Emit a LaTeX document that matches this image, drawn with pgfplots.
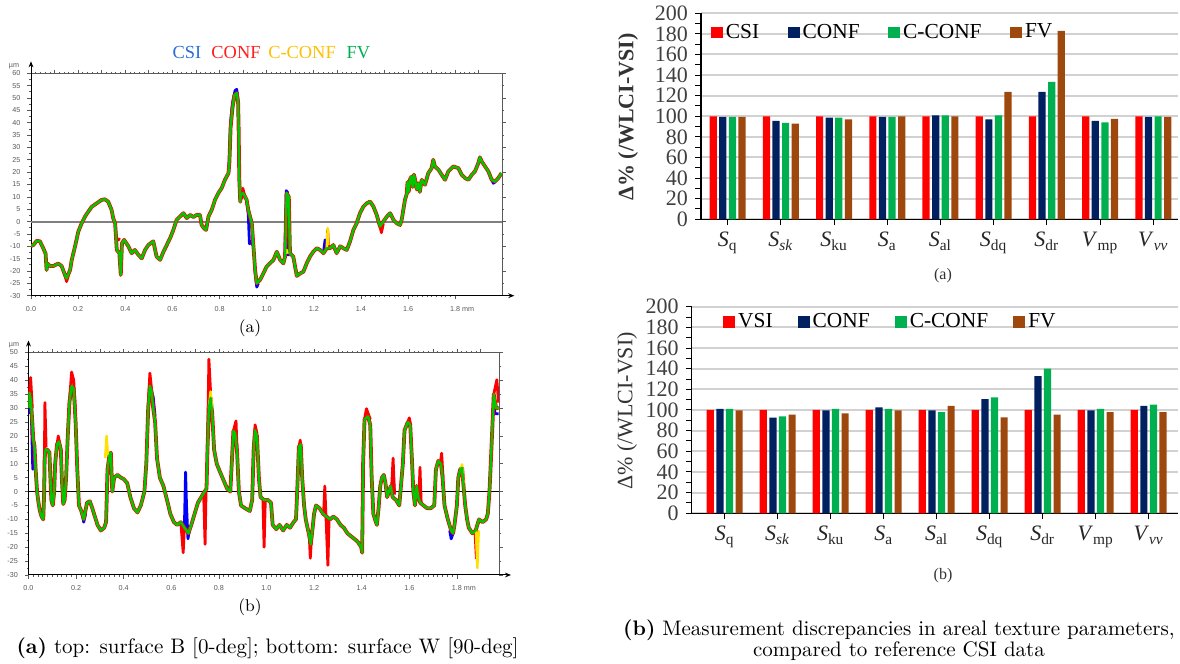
\documentclass[border=0pt]{standalone}
\usepackage{fontspec}
\usepackage{pgfplots}
\usepackage{pgfplotstable}
\pgfplotsset{compat=1.18}
\usetikzlibrary{arrows.meta}
\newfontfamily\tnr{Liberation Serif}
\newfontfamily\ars{Liberation Sans}
\definecolor{pblue}{RGB}{0,0,255}
\definecolor{pred}{RGB}{255,0,0}
\definecolor{pyel}{RGB}{255,225,0}
\definecolor{pgreen}{RGB}{0,200,0}
\definecolor{lblue}{RGB}{40,110,215}
\definecolor{lred}{RGB}{255,30,30}
\definecolor{lgold}{RGB}{255,192,0}
\definecolor{lgreen}{RGB}{0,176,80}
\definecolor{bred}{RGB}{255,0,0}
\definecolor{bnavy}{RGB}{0,32,96}
\definecolor{bgreen}{RGB}{0,176,80}
\definecolor{bbrown}{RGB}{158,72,14}
\definecolor{tickgray}{RGB}{90,90,90}

% ---------- profile (a): surface B, FV trace ----------
\pgfplotstableread{
x y
0.000 -9.9
0.010 -9.5
0.024 -7.8
0.038 -8.0
0.052 -10.8
0.062 -13
0.066 -19.6
0.070 -17
0.081 -18.0
0.095 -18.0
0.116 -17.0
0.130 -18.0
0.144 -21.6
0.151 -23.0
0.166 -19.6
0.173 -15.5
0.187 -10.0
0.201 -4.0
0.215 -0.7
0.229 2.0
0.243 4.0
0.258 6.0
0.279 7.4
0.300 8.8
0.314 9.0
0.328 8.0
0.342 4.7
0.349 1.3
0.357 -0.7
0.364 -11.5
0.375 -12.8
0.381 -21.6
0.386 -8.8
0.395 -7.4
0.413 -10.0
0.427 -12.8
0.441 -11.5
0.456 -13.5
0.470 -14.9
0.484 -11.5
0.498 -9.5
0.519 -8.0
0.533 -14.2
0.548 -15.5
0.562 -12.2
0.576 -9.5
0.590 -6.8
0.604 -3.4
0.618 0.7
0.632 2.0
0.647 3.4
0.661 1.4
0.675 2.7
0.689 1.8
0.703 2.7
0.717 2.7
0.724 -1.4
0.734 -2.7
0.743 -3.4
0.753 2.0
0.767 4.7
0.781 8.8
0.795 11.5
0.809 13.5
0.823 16.9
0.838 19.6
0.842 24
0.847 38
0.855 46
0.863 51
0.873 52
0.879 48
0.881 38
0.884 17
0.888 8
0.890 11
0.901 11.5
0.915 8.8
0.922 4.7
0.937 -0.7
0.944 -10
0.951 -19.6
0.958 -25
0.972 -23.6
0.986 -21
1.000 -18.2
1.014 -16.9
1.029 -15.5
1.043 -12.2
1.057 -15.5
1.071 -16.9
1.078 -14.2
1.085 11.5
1.094 10
1.099 -12.8
1.113 -14.2
1.128 -22.0
1.142 -21
1.156 -20.3
1.170 -16.9
1.184 -14.2
1.198 -12.2
1.213 -10.8
1.227 -11.5
1.241 -12.8
1.255 -10.8
1.269 -10.8
1.283 -9.5
1.297 -12.8
1.312 -10
1.326 -10.8
1.340 -11.5
1.354 -8
1.368 -3.4
1.382 -0.7
1.396 3.4
1.411 6.1
1.425 7.4
1.439 8.1
1.453 6.1
1.467 2.7
1.481 -2
1.495 0
1.510 2
1.524 3.4
1.538 0.7
1.552 -0.7
1.566 -1.4
1.573 0.7
1.587 8.8
1.594 11
1.598 16
1.603 12
1.608 17
1.615 18.2
1.620 14
1.625 19
1.630 16.9
1.637 13
1.644 15.5
1.650 12
1.658 16.9
1.672 14.9
1.686 19.6
1.700 21.6
1.707 25
1.714 22.3
1.729 21
1.743 18.9
1.757 16.9
1.771 20.3
1.792 22.3
1.814 21.6
1.828 18.9
1.842 17.6
1.856 16.9
1.870 18.9
1.884 20.3
1.898 23.6
1.905 26
1.913 24.3
1.927 22.3
1.941 20.3
1.955 16.9
1.969 16.2
1.983 17.6
1.997 19.6
}\profA

% ---------- profile (b): surface W, FV trace ----------
\pgfplotstableread{
x y
0.000 30
0.004 35.5
0.010 33
0.016 25
0.020 18.8
0.025 16.4
0.030 8
0.036 0
0.042 -4
0.048 -7
0.055 -9
0.062 -10
0.066 0
0.068 12
0.072 15.2
0.080 15
0.088 14
0.092 5
0.096 -3
0.102 -5
0.108 0
0.112 10
0.120 17
0.128 18
0.136 15
0.140 5
0.146 -4.5
0.152 -3
0.158 5
0.165 20
0.172 32
0.181 38
0.190 37
0.198 25
0.205 8
0.212 -5
0.222 -7
0.232 -10
0.246 -4
0.258 -3.5
0.268 -6
0.290 -12
0.304 -14
0.318 -13
0.326 -11
0.332 8
0.340 13
0.346 14
0.352 0
0.360 5
0.374 6
0.388 5
0.400 4.5
0.415 3
0.428 -2
0.443 -6
0.458 -7.5
0.472 -5
0.487 0
0.495 10
0.503 30
0.510 38
0.517 36
0.524 30
0.532 25
0.540 12
0.552 5
0.567 2
0.582 -3
0.596 -8
0.611 -11
0.625 -12
0.640 -11
0.655 -13
0.664 -14
0.672 -15
0.684 -12
0.698 -8
0.712 -4
0.726 -2
0.740 0
0.748 1
0.752 15
0.758 30
0.765 33.7
0.772 28
0.780 15
0.791 10
0.805 7
0.820 4
0.835 1
0.848 0
0.854 10
0.861 21.8
0.868 21
0.876 15
0.884 0
0.893 -5
0.910 -6
0.930 -7
0.940 -3
0.946 15
0.952 22
0.960 20
0.968 5
0.975 -2
0.990 -3
1.005 -3
1.019 -4
1.026 -12
1.041 -13.5
1.055 -12
1.070 -14
1.085 -12
1.099 -13
1.114 -11
1.124 -10
1.130 2
1.136 16
1.144 17
1.150 5
1.158 -5
1.165 -10
1.180 -16
1.186 -19
1.194 -13
1.200 -8
1.208 -5
1.223 -6
1.238 -8
1.252 -9
1.267 -10
1.281 -9
1.296 -10
1.311 -12
1.325 -13
1.340 -15
1.354 -16
1.369 -17
1.383 -18
1.398 -20
1.402 -22
1.406 10
1.412 26
1.427 27
1.436 24
1.442 5
1.449 -8
1.456 -10
1.464 -12
1.471 -6
1.478 2
1.485 5
1.493 6
1.500 3
1.507 -2
1.515 0
1.522 2
1.530 -2
1.544 -3
1.558 -5
1.566 3
1.573 10
1.580 22
1.594 25
1.604 24
1.612 10
1.617 0
1.624 -5
1.631 2
1.638 -2
1.646 -4
1.660 -5
1.675 -6
1.690 -6
1.705 -5
1.712 8
1.722 11
1.733 10
1.740 5
1.748 -5
1.762 -10
1.776 -14
1.784 -15
1.790 -12
1.800 -5
1.806 5
1.814 8
1.822 8.5
1.828 2
1.835 -5
1.843 -10
1.850 -13
1.865 -15
1.879 -14
1.893 -10
1.908 -11
1.923 -10
1.930 -8
1.937 0
1.945 15
1.955 35
1.965 30
1.975 30
}\profB

% ---------- bar data ----------
\pgfplotstableread{
x csi conf cconf fv
0 100 99.5 99.5 99.5
1 100 95.5 93.5 93
2 100 98.7 98.7 97
3 100 99.4 99.4 100
4 100 101 101 100
5 100 97 101 123.6
6 100 123.6 133.3 183
7 100 95.5 94 97.4
8 100 99.4 100 99.4
}\barA
\pgfplotstableread{
x vsi conf cconf fv
0 100 101 101 99.7
1 100 92.6 93.9 95.5
2 100 99.7 101 96.8
3 100 102.6 101 99.7
4 100 99.7 98 103.9
5 100 110.6 112.3 92.9
6 100 132.9 140 95.5
7 100 99.7 101 98
8 100 103.9 105.2 98
}\barB

\pgfplotsset{
  profbase/.style={
    scale only axis, anchor=south west,
    axis lines=left,
    axis line style={-{Stealth[length=3pt,width=2.4pt]}, shorten >=-6pt, line width=0.5pt, black},
    tick align=outside, major tick length=1.8pt, minor tick length=0.9pt,
    tick style={tickgray, line width=0.35pt},
    minor x tick num=9, minor y tick num=1,
    /pgf/number format/assume math mode=true,
    tick label style={font=\ars\fontsize{3.6}{4}\selectfont, text=tickgray},
    xticklabels={0.0,0.2,0.4,0.6,0.8,1.0,1.2,1.4,1.6,1.8\rlap{ mm}},
    xtick={0,0.2,0.4,0.6,0.8,1.0,1.2,1.4,1.6,1.8},
    every axis plot/.append style={line join=round},
  },
  profover/.style={
    scale only axis, anchor=south west,
    axis x line*=top, axis y line*=right,
    axis line style={tickgray, line width=0.4pt},
    tick align=outside, major tick length=1.8pt, minor tick length=0.9pt,
    tick style={tickgray, line width=0.35pt},
    xtick={0,0.1,...,1.9}, minor x tick num=4, xticklabels={},
    minor y tick num=1, yticklabels={},
  },
  barbase/.style={
    scale only axis, anchor=south west,
    ymin=0, ymax=200,
    axis x line*=bottom, axis y line*=left,
    axis line style={black, line width=0.6pt},
    ytick={0,20,...,200}, minor ytick={10,30,...,190},
    ymajorgrids, major grid style={black!18, line width=1pt},
    tick align=outside, major tick length=3pt, minor tick length=3pt,
    tick style={black, line width=0.5pt},
    xtick={0,...,8},
    xticklabels={{\textit{S}\textsubscript{q}},{\textit{S}\textsubscript{\textit{sk}}},{\textit{S}\textsubscript{ku}},{\textit{S}\textsubscript{a}},{\textit{S}\textsubscript{al}},{\textit{S}\textsubscript{dq}},{\textit{S}\textsubscript{dr}},{\textit{V}\textsubscript{mp}},{\textit{V}\textsubscript{\textit{vv}}}},
    ybar=1.2pt, bar width=3.6pt,
    /pgf/number format/assume math mode=true,
    yticklabel style={font=\tnr\fontsize{11}{12}\selectfont, text=black!75},
    xticklabel style={font=\tnr\fontsize{11}{12}\selectfont, text=black!85},
    legend style={draw=none, fill=none, legend columns=4, inner sep=0pt,
      font=\tnr\fontsize{10.7}{12}\selectfont,
      nodes={inner sep=1.5pt}},
    legend image code/.code={\fill[#1] (0pt,-2.9pt) rectangle (6pt,2.9pt);},
  },
}

\begin{document}
\begin{tikzpicture}[x=0.5pt,y=0.5pt]
\useasboundingbox (0,0) rectangle (1180,664);

% ================= profile (a) =================
\begin{axis}[profover, at={(15.5pt,184.15pt)}, width=235.65pt, height=111.2pt,
  xmin=0, xmax=2.0, ymin=-30, ymax=60, ytick={-30,-20,...,60}]
\addplot[draw=none] coordinates {(0,0)};
\end{axis}
\begin{axis}[profbase, at={(15.5pt,184.15pt)}, width=235.65pt, height=111.2pt,
  xmin=0, xmax=2.0, ymin=-30, ymax=60, ytick={-30,-25,...,60}]
\addplot[gray, line width=1pt] coordinates {(0,0) (2.0,0)};
% CSI (blue)
\addplot[pblue, line width=1.4pt] coordinates {(0.838,19.6) (0.842,26) (0.847,40) (0.855,48) (0.866,53) (0.873,53.5) (0.879,49) (0.881,38)};
\addplot[pblue, line width=1.4pt] coordinates {(0.915,8.8) (0.922,3) (0.927,-9) (0.932,-8) (0.944,-10)};
\addplot[pblue, line width=1.4pt] coordinates {(1.078,-14.2) (1.083,12.5) (1.088,12) (1.092,-14)};
\addplot[pblue, line width=1.4pt] coordinates {(1.241,-12.8) (1.248,-7.4) (1.252,-11)};
\addplot[pblue, line width=1.4pt] coordinates {(0.951,-20) (0.958,-26.5) (0.965,-25)};
\addplot[pblue, line width=1.4pt] coordinates {(1.955,16.9) (1.962,15.5) (1.969,16)};
% CONF (red)
\addplot[pred, line width=1.9pt] table {\profA};
\addplot[pred, line width=1.4pt] coordinates {(0.144,-21.6) (0.151,-24.3) (0.158,-22)};
\addplot[pred, line width=1.4pt] coordinates {(0.895,9) (0.899,13.5) (0.905,11)};
\addplot[pred, line width=1.4pt] coordinates {(1.255,-10.8) (1.259,-3.4) (1.263,-10.5)};
\addplot[pred, line width=1.4pt] coordinates {(1.481,-2) (1.487,-4.5) (1.495,-1)};
\addplot[pred, line width=1.4pt] coordinates {(0.357,-0.7) (0.364,-8) (0.370,-7) (0.378,-7.4)};
% C-CONF (yellow)
\addplot[pyel, line width=1.2pt] coordinates {(1.255,-10.8) (1.259,-2.6) (1.262,-9.5)};
\addplot[pyel, line width=1.2pt] coordinates {(1.081,-13) (1.085,-11.5) (1.089,-13)};
% FV (green)
\addplot[pgreen, line width=1.2pt] table {\profA};
\end{axis}

% ================= profile (b) =================
\begin{axis}[profover, at={(14.25pt,44.5pt)}, width=235.25pt, height=111.25pt,
  xmin=0, xmax=1.977, ymin=-30, ymax=50, ytick={-30,-20,...,50}]
\addplot[draw=none] coordinates {(0,0)};
\end{axis}
\begin{axis}[profbase, at={(14.25pt,44.5pt)}, width=235.25pt, height=111.25pt,
  xmin=0, xmax=1.977, ymin=-30, ymax=50, ytick={-30,-25,...,50}]
\addplot[black, line width=0.8pt] coordinates {(0,0) (1.977,0)};
% CSI (blue)
\addplot[pblue, line width=1.4pt] coordinates {(0.0,28) (0.004,31) (0.012,28) (0.018,8) (0.025,14)};
\addplot[pblue, line width=1.4pt] coordinates {(0.226,-8) (0.232,-11) (0.240,-8)};
\addplot[pblue, line width=1.4pt] coordinates {(0.517,36) (0.524,34) (0.532,27)};
\addplot[pblue, line width=1.4pt] coordinates {(0.655,-13) (0.660,7) (0.664,-5) (0.670,-17) (0.676,-14)};
\addplot[pblue, line width=1.4pt] coordinates {(1.525,0) (1.532,6.3) (1.538,-1)};
\addplot[pblue, line width=1.4pt] coordinates {(1.770,-14) (1.776,-17) (1.784,-15)};
\addplot[pblue, line width=1.4pt] coordinates {(1.955,35) (1.960,28) (1.975,28)};
% CONF (red)
\addplot[pred, line width=1.9pt] table {\profB};
\addplot[pred, line width=1.4pt] coordinates {(0.004,35.5) (0.009,41) (0.016,30)};
\addplot[pred, line width=1.4pt] coordinates {(0.062,-10) (0.066,5) (0.069,32) (0.074,16)};
\addplot[pred, line width=1.4pt] coordinates {(0.120,17) (0.125,20) (0.130,18)};
\addplot[pred, line width=1.4pt] coordinates {(0.172,32) (0.181,43) (0.190,40) (0.198,28)};
\addplot[pred, line width=1.4pt] coordinates {(0.503,30) (0.510,42.6) (0.517,37)};
\addplot[pred, line width=1.4pt] coordinates {(0.640,-11) (0.650,-22) (0.655,-13)};
\addplot[pred, line width=1.4pt] coordinates {(0.736,-1) (0.742,-19) (0.746,0)};
\addplot[pred, line width=1.4pt] coordinates {(0.752,15) (0.758,47.6) (0.765,36)};
\addplot[pred, line width=1.4pt] coordinates {(0.861,21.8) (0.872,25.4) (0.876,16)};
\addplot[pred, line width=1.4pt] coordinates {(0.946,15) (0.952,24) (0.960,21)};
\addplot[pred, line width=1.4pt] coordinates {(0.985,-3) (0.990,-20) (0.995,-3)};
\addplot[pred, line width=1.4pt] coordinates {(1.136,16) (1.142,18.5) (1.148,8)};
\addplot[pred, line width=1.4pt] coordinates {(1.180,-16) (1.184,-24) (1.190,-16)};
\addplot[pred, line width=1.4pt] coordinates {(1.240,-8) (1.245,2) (1.250,-9) (1.258,-26.5) (1.263,-10)};
\addplot[pred, line width=1.4pt] coordinates {(1.412,26) (1.420,29.8) (1.436,26)};
\addplot[pred, line width=1.4pt] coordinates {(1.525,0) (1.532,12) (1.538,-1)};
\addplot[pred, line width=1.4pt] coordinates {(1.594,25) (1.600,26.5) (1.606,24)};
\addplot[pred, line width=1.4pt] coordinates {(1.640,-3) (1.645,8.7) (1.650,-4)};
\addplot[pred, line width=1.4pt] coordinates {(1.730,10) (1.736,13.8) (1.742,5)};
\addplot[pred, line width=1.4pt] coordinates {(1.876,-14) (1.882,-24) (1.888,-14)};
\addplot[pred, line width=1.4pt] coordinates {(1.955,35) (1.968,40.2) (1.975,32)};
% C-CONF (yellow)
\addplot[pyel, line width=1.2pt] coordinates {(0.322,12) (0.328,20) (0.334,13)};
\addplot[pyel, line width=1.2pt] coordinates {(0.758,30) (0.765,36) (0.772,30)};
\addplot[pyel, line width=1.2pt] coordinates {(1.880,-14) (1.886,-27.5) (1.892,-14)};
\addplot[pyel, line width=1.2pt] coordinates {(1.816,8) (1.822,9.8) (1.828,3)};
% FV (green)
\addplot[pgreen, line width=1.2pt] table {\profB};
\end{axis}

% profile texts
\node[anchor=base, text=lblue, font=\tnr\fontsize{9.2}{10}\selectfont] at (187,605.7) {CSI};
\node[anchor=base, text=lred, font=\tnr\fontsize{9.2}{10}\selectfont] at (236,605.7) {CONF};
\node[anchor=base, text=lgold, font=\tnr\fontsize{9.2}{10}\selectfont] at (302,605.7) {C-CONF};
\node[anchor=base, text=lgreen, font=\tnr\fontsize{9.2}{10}\selectfont] at (358.5,605.7) {FV};
\node[font=\ars\fontsize{3.6}{4}\selectfont, text=tickgray] at (14,598) {µm};
\node[font=\ars\fontsize{3.6}{4}\selectfont, text=tickgray] at (14,319) {µm};
\node[font=\fontsize{8.5}{10}\selectfont] at (250,336) {(a)};
\node[font=\fontsize{8.5}{10}\selectfont] at (250,57) {(b)};
\node[font=\fontsize{10.5}{12}\selectfont] at (267.5,16) {\textbf{(a)} top: surface B [0-deg]; bottom: surface W [90-deg]};

% ================= bar chart (a) =================
\begin{axis}[barbase, at={(350.5pt,222.35pt)}, width=238.5pt, height=103pt,
  xmin=-0.5, xmax=8.464,
  legend style={at={(0.02,0.965)}, anchor=north west,
    /tikz/every even column/.append style={column sep=12.7pt}}]
\addplot[fill=bred, draw=none] table[x=x, y=csi] {\barA};
\addplot[fill=bnavy, draw=none] table[x=x, y=conf] {\barA};
\addplot[fill=bgreen, draw=none] table[x=x, y=cconf] {\barA};
\addplot[fill=bbrown, draw=none] table[x=x, y=fv] {\barA};
\legend{CSI,CONF,C-CONF,FV}
\end{axis}
\node[rotate=90, font=\tnr\bfseries\fontsize{11}{12}\selectfont, text=black!80] at (628,547) {Δ\% (/WLCI-VSI)};
\node[font=\tnr\fontsize{8}{10}\selectfont, text=black!80] at (943,388) {(a)};

% ================= bar chart (b) =================
\begin{axis}[barbase, at={(345.85pt,75.35pt)}, width=243.15pt, height=103.3pt,
  xmin=-0.623, xmax=8.553,
  legend style={at={(0.064,0.985)}, anchor=north west,
    /tikz/every even column/.append style={column sep=11pt}}]
\addplot[fill=bred, draw=none] table[x=x, y=vsi] {\barB};
\addplot[fill=bnavy, draw=none] table[x=x, y=conf] {\barB};
\addplot[fill=bgreen, draw=none] table[x=x, y=cconf] {\barB};
\addplot[fill=bbrown, draw=none] table[x=x, y=fv] {\barB};
\legend{VSI,CONF,C-CONF,FV}
\end{axis}
\node[rotate=90, font=\tnr\fontsize{11}{12}\selectfont, text=black!80] at (627,253) {Δ\% (/WLCI-VSI)};
\node[font=\tnr\fontsize{8}{10}\selectfont, text=black!80] at (943,88) {(b)};
\node[align=center, font=\fontsize{10.5}{10.5}\selectfont] at (899,23.5) {\textbf{(b)} Measurement discrepancies in areal texture parameters,\\ compared to reference CSI data};
\end{tikzpicture}
\end{document}
